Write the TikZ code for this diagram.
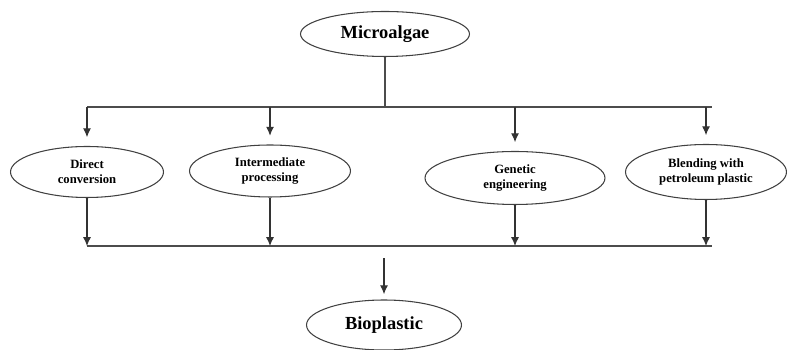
\documentclass[tikz,border=0pt]{standalone}
\usepackage{fontspec}
\setmainfont{Liberation Serif}
\usetikzlibrary{shapes.geometric,arrows.meta}

\begin{document}
\begin{tikzpicture}[x=0.02cm, y=-0.02cm,
        bubble/.style={ellipse, draw=black!75, line width=0.6pt, align=center, inner sep=0pt,
            font=\bfseries\fontsize{7.2}{8.4}\selectfont},
        bigbubble/.style={bubble, font=\bfseries\fontsize{10.5}{12}\selectfont},
        flow/.style={-{Latex[length=5pt,width=4.5pt]}, line width=0.6pt, draw=black!80},
        rail/.style={line width=0.6pt, draw=black!70}]
        \useasboundingbox (0,0) rectangle (787,350);

        \node[bigbubble, minimum width=3.38cm, minimum height=0.9cm] (algae) at (385,34) {Microalgae};

        \node[bubble, minimum width=3.06cm, minimum height=1.02cm] (dc) at (87,172) {Direct\\conversion};
        \node[bubble, minimum width=3.22cm, minimum height=1.04cm] (ip) at (270,171) {Intermediate\\processing};
        \node[bubble, minimum width=3.6cm, minimum height=1.06cm] (ge) at (515,178) {Genetic\\engineering};
        \node[bubble, minimum width=3.22cm, minimum height=1.1cm] (bp) at (706,172) {Blending with\\petroleum plastic};

        \node[bigbubble, minimum width=3.1cm, minimum height=1.0cm] (bio) at (384,325) {Bioplastic};

        \coordinate (tl) at (87,107);
        \coordinate (tr) at (712,107);
        \coordinate (bl) at (87,246);
        \coordinate (br) at (712,246);

        \draw[rail] (algae.south) -- (algae.south |- tl);
        \draw[rail] (tl) -- (tr);
        \draw[rail] (bl) -- (br);

        \foreach \n in {dc,ip,ge,bp}
            {
                \draw[flow, shorten >=5pt] (\n.north |- tl) -- (\n.north);
                \draw[flow] (\n.south) -- (\n.south |- bl);
            }

        \draw[flow, shorten <=7pt, shorten >=3pt] (bio.north |- bl) -- (bio.north);
    \end{tikzpicture}
\end{document}
